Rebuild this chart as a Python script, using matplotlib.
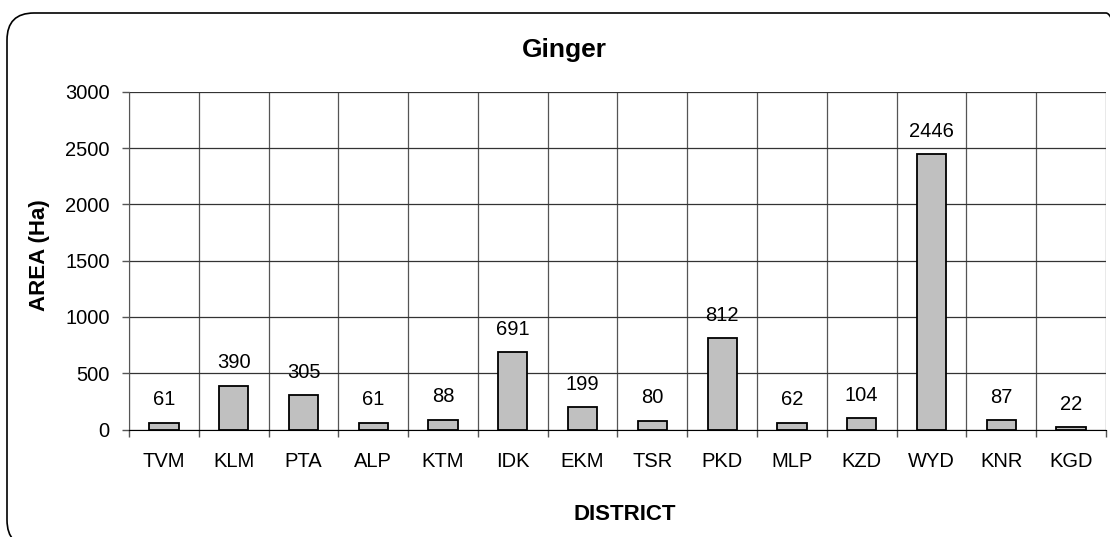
import matplotlib
matplotlib.use("Agg")
import matplotlib.pyplot as plt
from matplotlib.patches import FancyBboxPatch
from matplotlib.transforms import IdentityTransform
import numpy as np

districts = ["TVM", "KLM", "PTA", "ALP", "KTM", "IDK", "EKM", "TSR", "PKD", "MLP", "KZD", "WYD", "KNR", "KGD"]
area = [61, 390, 305, 61, 88, 691, 199, 80, 812, 62, 104, 2446, 87, 22]
yticks = [0, 500, 1000, 1500, 2000, 2500, 3000]

plt.rcParams['font.family'] = ['Liberation Sans', 'DejaVu Sans']

W, H = 1110, 537
fig = plt.figure(figsize=(W / 100, H / 100), dpi=100)

# rounded outer frame in pixel coordinates (cut at right and bottom)
left_px, top_px, right_px, bot_px = 7, 13, 1133, 547
box = FancyBboxPatch((left_px, H - bot_px), right_px - left_px, bot_px - top_px,
                     boxstyle="round,pad=0,rounding_size=27",
                     transform=IdentityTransform(), facecolor='none', edgecolor='black',
                     linewidth=1.2, clip_on=False)
fig.patches.append(box)

ax = fig.add_axes([129 / W, 1 - 429.5 / H, (1106 - 129) / W, (429.5 - 92) / H])
x = np.arange(len(districts))
ax.bar(x, area, width=0.42, color='#C0C0C0', edgecolor='black', linewidth=1.3, zorder=3)
for xi, v in zip(x, area):
    ax.annotate(str(v), (xi, v), xytext=(0, 9.5), textcoords='offset points',
                ha='center', va='bottom', fontsize=14.5)

ax.set_xlim(-0.5, len(districts) - 0.5)
ax.set_ylim(0, 3000)
ax.set_yticks(yticks)
ax.set_yticklabels([str(t) for t in yticks], fontsize=14.5)
ax.set_xticks(x)
ax.set_xticklabels(districts, fontsize=14.5)
ax.set_xticks(np.arange(-0.5, len(districts)), minor=True)
ax.tick_params(axis='x', which='major', length=0, pad=16.5)
ax.tick_params(axis='x', which='minor', length=5, width=1, color='#555555')
ax.tick_params(axis='y', length=5, width=1, pad=9, color='#555555')
ax.grid(True, axis='y', which='major', color='#333333', linewidth=0.9, zorder=0)
ax.grid(True, axis='x', which='minor', color='#555555', linewidth=0.9, zorder=0)
for s in ['top', 'right']:
    ax.spines[s].set_visible(False)
ax.spines['left'].set_color('#555555')
ax.spines['bottom'].set_color('black')
ax.set_axisbelow(True)

fig.text(564 / W, 1 - 50 / H, "Ginger", ha='center', va='center', fontsize=19, fontweight='bold')
fig.text(40 / W, 1 - 255 / H, "AREA (Ha)", ha='center', va='center', rotation=90, fontsize=16, fontweight='bold')
fig.text(625 / W, 1 - 515 / H, "DISTRICT", ha='center', va='center', fontsize=16, fontweight='bold')

fig.savefig("out.png", dpi=100)
